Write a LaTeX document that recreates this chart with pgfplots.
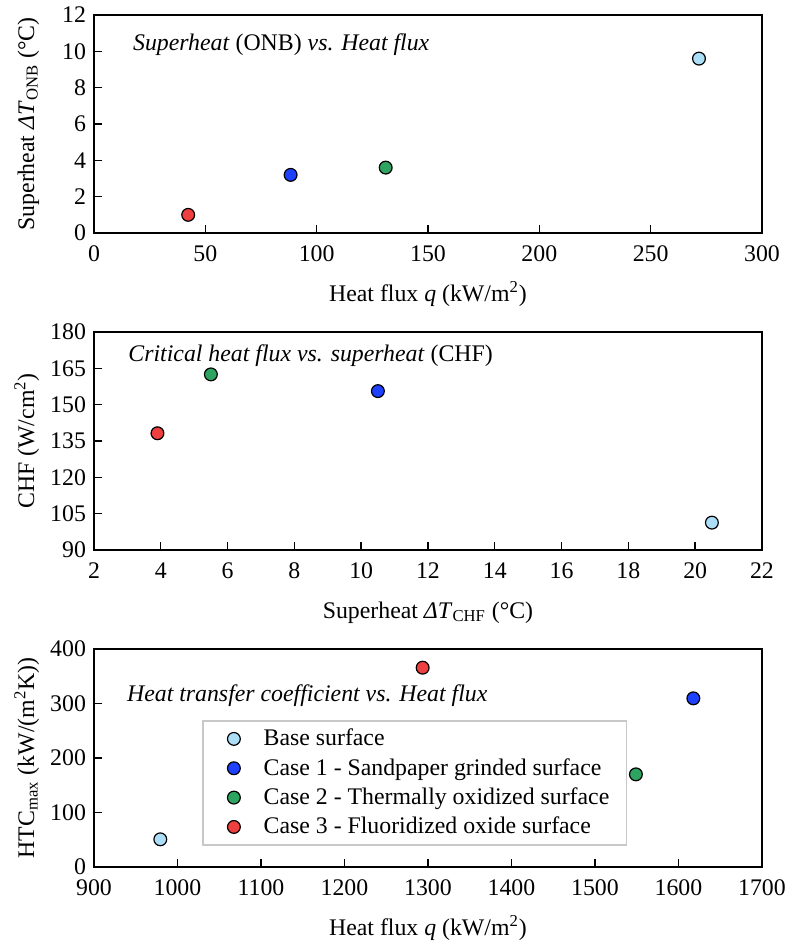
\documentclass[border=0pt]{standalone}
\usepackage{fontspec}
\setmainfont{Liberation Serif}
\usepackage{pgfplots}
\pgfplotsset{compat=1.18}
\definecolor{cbase}{RGB}{172,222,248}
\definecolor{cone}{RGB}{30,64,255}
\definecolor{ctwo}{RGB}{46,164,98}
\definecolor{cthree}{RGB}{238,64,64}
\newcommand{\fs}{\fontsize{11.9}{14}\selectfont}
\pgfplotsset{
  myax/.style={
    width=334pt, height=109pt, scale only axis,
    axis line style={line width=0.7pt},
    every tick/.style={line width=0.7pt, black},
    tick align=inside, xtick pos=bottom, ytick pos=left,
    major tick length=4pt,
    xticklabel={\pgfmathprintnumber[assume math mode=true,1000 sep={}]{\tick}},
    yticklabel={\pgfmathprintnumber[assume math mode=true,1000 sep={}]{\tick}},
    ticklabel style={font=\fs\rmfamily},
    xticklabel style={yshift=-3pt},
    yticklabel style={xshift=-0.5pt},
    label style={font=\fs},
    xlabel style={at={(axis description cs:0.5,-0.312)}, anchor=base},
    ylabel style={at={(axis description cs:-0.0898,0.5)}, anchor=base, rotate=0},
    clip=false,
  },
  mk/.style={only marks, mark=*, mark size=3.2pt, mark options={draw=black, line width=0.6pt, fill=#1}},
}
\begin{document}
\begin{tikzpicture}
\path (0,0) rectangle (394pt,-475pt);
% Panel 1
\begin{axis}[myax, at={(47pt,-7.5pt)}, anchor=north west,
  xmin=0, xmax=300, ymin=0, ymax=12,
  xtick={0,50,...,300}, ytick={0,2,...,12},
  xlabel={Heat flux \textit{q} (kW/m\textsuperscript{2})},
  ylabel={Superheat \textit{ΔT}\textsubscript{ONB} (°C)}]
\addplot[mk=cbase] coordinates {(271.7,9.6)};
\addplot[mk=cone] coordinates {(88.3,3.2)};
\addplot[mk=ctwo] coordinates {(131,3.6)};
\addplot[mk=cthree] coordinates {(42.3,1.0)};
\node[anchor=west, font=\fs, inner sep=0pt] at (rel axis cs:0.058,0.862) {\textit{Superheat} (ONB) \textit{vs. Heat flux}};
\end{axis}
% Panel 2
\begin{axis}[myax, at={(47pt,-166pt)}, anchor=north west,
  xmin=2, xmax=22, ymin=90, ymax=180,
  xtick={2,4,...,22}, ytick={90,105,...,180},
  xlabel={Superheat \textit{ΔT}\textsubscript{CHF} (°C)},
  ylabel={CHF (W/cm\textsuperscript{2})}]
\addplot[mk=cbase] coordinates {(20.5,101.3)};
\addplot[mk=cone] coordinates {(10.5,155.6)};
\addplot[mk=ctwo] coordinates {(5.5,162.5)};
\addplot[mk=cthree] coordinates {(3.9,138.2)};
\node[anchor=west, font=\fs, inner sep=0pt] at (rel axis cs:0.051,0.89) {\textit{Critical heat flux vs. superheat} (CHF)};
\end{axis}
% Panel 3
\begin{axis}[myax, at={(47pt,-324.5pt)}, anchor=north west,
  xmin=900, xmax=1700, ymin=0, ymax=400,
  xtick={900,1000,...,1700}, ytick={0,100,...,400},
  xlabel={Heat flux \textit{q} (kW/m\textsuperscript{2})},
  ylabel={HTC\textsubscript{max} (kW/(m\textsuperscript{2}K))},
  legend style={at={(rel axis cs:0.162,0.098)}, anchor=south west,
    draw={rgb,255:red,200;green,200;blue,200}, line width=0.8pt,
    font=\fs, row sep=0.8pt, inner xsep=6.5pt, inner ysep=2pt},
  legend cell align=left,
  legend image code/.code={\path (0cm,0cm) (0.74cm,0cm); \draw[#1] plot coordinates {(0.3cm,0cm)};}]
\addplot[mk=cbase] coordinates {(979.4,50.8)};
\addlegendentry{Base surface}
\addplot[mk=cone] coordinates {(1617.8,309.5)};
\addlegendentry{Case 1 - Sandpaper grinded surface}
\addplot[mk=ctwo] coordinates {(1549,170)};
\addlegendentry{Case 2 - Thermally oxidized surface}
\addplot[mk=cthree] coordinates {(1293.6,365.7)};
\addlegendentry{Case 3 - Fluoridized oxide surface}
\node[anchor=west, font=\fs, inner sep=0pt] at (rel axis cs:0.049,0.784) {\textit{Heat transfer coefficient vs. Heat flux}};
\end{axis}
\end{tikzpicture}
\end{document}
